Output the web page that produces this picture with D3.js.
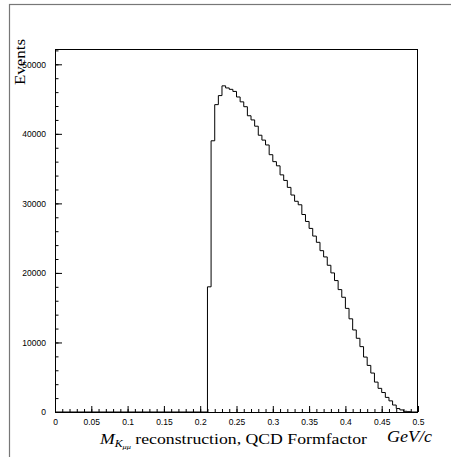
<!DOCTYPE html>
<html>
<head>
<meta charset="utf-8">
<script src="https://cdn.jsdelivr.net/npm/d3@7"></script>
<style>
  body { margin: 0; background: #fff; }
  .tick text { font-family: "Liberation Sans", Arial, sans-serif; font-size: 8.5px; fill: #000; }
</style>
</head>
<body>
<div id="chart"></div>
<script>
// M_Kmumu reconstruction histogram, bins of 0.005 GeV/c
const binLow = [0.210, 0.215, 0.220, 0.225, 0.230, 0.235, 0.240, 0.245, 0.250, 0.255,
    0.260, 0.265, 0.270, 0.275, 0.280, 0.285, 0.290, 0.295, 0.300, 0.305,
    0.310, 0.315, 0.320, 0.325, 0.330, 0.335, 0.340, 0.345, 0.350, 0.355,
    0.360, 0.365, 0.370, 0.375, 0.380, 0.385, 0.390, 0.395, 0.400, 0.405,
    0.410, 0.415, 0.420, 0.425, 0.430, 0.435, 0.440, 0.445, 0.450, 0.455,
    0.460, 0.465, 0.470, 0.475, 0.480, 0.485, 0.490];
const counts = [18000, 39000, 44200, 45500, 46900, 46600, 46400, 46100, 45300, 44600,
    43900, 42600, 42000, 41100, 39800, 39100, 38400, 37000, 36000, 35400,
    34100, 33300, 32300, 31200, 30300, 29800, 28400, 27400, 26400, 25300,
    24400, 23200, 22300, 21100, 20000, 18900, 17600, 16500, 14900, 13400,
    11800, 10600, 9400, 7900, 6700, 5600, 4300, 3400, 2800, 2100,
    1600, 1000, 500, 300, 100, 50, 0];
const xMajor = [0, 0.05, 0.1, 0.15, 0.2, 0.25, 0.3, 0.35, 0.4, 0.45, 0.5];
const yMajor = [0, 10000, 20000, 30000, 40000, 50000];

(function histogram() {
    const width = 451,
        height = 457,
        margin = ({ top: 49, right: 33, bottom: 45, left: 55 });

    const svg = d3.select("#chart")
        .append("svg")
        .attr("width", width)
        .attr("height", height);

    // canvas border (partly cut off)
    svg.append("rect")
        .attr("x", 9.5).attr("y", 4.5)
        .attr("width", 500).attr("height", 500)
        .attr("fill", "none")
        .attr("stroke", "#777")
        .attr("stroke-width", 1.2);

    let x = d3.scaleLinear()
        .domain([0, 0.5])
        .range([margin.left, width - margin.right]);

    let y = d3.scaleLinear()
        .domain([0, 52200])
        .range([height - margin.bottom, margin.top]);

    // minor ticks
    svg.append("g")
        .attr("transform", `translate(0,${height - margin.bottom})`)
        .call(d3.axisBottom(x).tickValues(d3.range(0, 0.5001, 0.01)).tickSize(-3).tickFormat(""))
        .call(g => g.select(".domain").remove());
    svg.append("g")
        .attr("transform", `translate(${margin.left},0)`)
        .call(d3.axisLeft(y).tickValues(d3.range(0, 52001, 2000)).tickSize(-3.5).tickFormat(""))
        .call(g => g.select(".domain").remove());

    // major ticks + labels
    svg.append("g")
        .attr("transform", `translate(0,${height - margin.bottom})`)
        .call(d3.axisBottom(x).tickValues(xMajor).tickSize(-6).tickPadding(7)
            .tickFormat(d => d3.format("")(d)))
        .call(g => g.select(".domain").remove());
    svg.append("g")
        .attr("transform", `translate(${margin.left},0)`)
        .call(d3.axisLeft(y).tickValues(yMajor).tickSize(-7).tickPadding(9)
            .tickFormat(d3.format("d")))
        .call(g => g.select(".domain").remove());

    svg.selectAll(".tick line").attr("stroke", "#000");

    // histogram outline
    let pts = [[0, 0]].concat(binLow.map((b, i) => [b, counts[i]]));
    pts.push([0.5, 0]);

    let line = d3.line()
        .x(d => x(d[0]))
        .y(d => y(d[1]))
        .curve(d3.curveStepAfter);

    svg.append("path")
        .datum(pts)
        .attr("d", line)
        .attr("fill", "none")
        .attr("stroke", "#000")
        .attr("stroke-width", 1);

    // frame
    svg.append("rect")
        .attr("x", margin.left + 0.5).attr("y", margin.top + 0.5)
        .attr("width", width - margin.left - margin.right - 1)
        .attr("height", height - margin.top - margin.bottom)
        .attr("fill", "none")
        .attr("stroke", "#000");

    // axis titles
    let xt = svg.append("text")
        .attr("x", 100)
        .attr("y", 444)
        .attr("font-family", "'Liberation Serif', 'Times New Roman', serif")
        .attr("font-size", 15)
        .attr("textLength", 267)
        .attr("lengthAdjust", "spacingAndGlyphs");
    xt.append("tspan").attr("font-style", "italic").text("M");
    xt.append("tspan").attr("font-style", "italic").attr("font-size", 10).attr("dy", 3).text("K");
    xt.append("tspan").attr("font-style", "italic").attr("font-size", 7).attr("dy", 2).text("μμ");
    xt.append("tspan").attr("dy", -5).text(" reconstruction, QCD Formfactor");

    svg.append("text")
        .attr("x", 387)
        .attr("y", 442)
        .attr("font-family", "'Liberation Serif', 'Times New Roman', serif")
        .attr("font-style", "italic")
        .attr("font-size", 16)
        .attr("textLength", 45)
        .attr("lengthAdjust", "spacingAndGlyphs")
        .text("GeV/c");

    svg.append("text")
        .attr("transform", "translate(25,39) rotate(-90)")
        .attr("text-anchor", "end")
        .attr("font-family", "'Liberation Serif', 'Times New Roman', serif")
        .attr("font-size", 15)
        .attr("textLength", 46)
        .attr("lengthAdjust", "spacingAndGlyphs")
        .text("Events");
})();
</script>
</body>
</html>
